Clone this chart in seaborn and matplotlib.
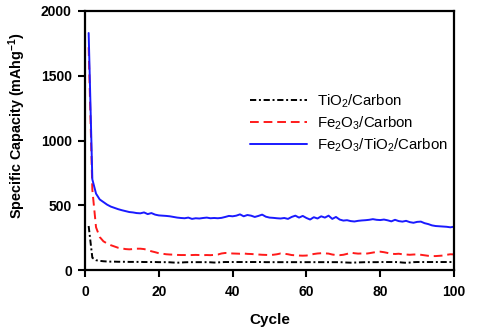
import numpy as np
import pandas as pd
import matplotlib
matplotlib.use("Agg")
import matplotlib.pyplot as plt
import seaborn as sns

cycles = list(range(1, 101))

tio2_carbon = [
    340, 95, 76, 71, 68, 66, 65, 65, 64, 64,
    64, 63, 63, 63, 63, 62, 62, 62, 62, 61,
    61, 61, 60, 58, 57, 58, 60, 61, 61, 61,
    61, 61, 61, 60, 58, 59, 61, 62, 62, 62,
    62, 62, 62, 62, 62, 62, 62, 62, 61, 61,
    61, 61, 61, 61, 61, 61, 61, 61, 61, 61,
    61, 61, 61, 61, 61, 61, 61, 61, 61, 60,
    58, 57, 58, 59, 60, 61, 61, 61, 61, 62,
    62, 62, 62, 62, 61, 58, 56, 58, 61, 62,
    62, 62, 62, 62, 62, 62, 62, 62, 62, 62,
]

fe2o3_carbon = [
    1720, 620, 330, 255, 222, 205, 192, 182, 172, 167,
    162, 160, 162, 165, 165, 162, 155, 145, 138, 130,
    126, 122, 120, 119, 117, 116, 116, 115, 116, 117,
    116, 115, 116, 115, 117, 120, 128, 132, 130, 128,
    127, 126, 128, 125, 124, 122, 120, 118, 117, 116,
    118, 122, 128, 126, 122, 116, 114, 112, 111, 112,
    118, 124, 128, 130, 129, 127, 120, 116, 115, 118,
    125, 135, 130, 127, 128, 126, 130, 135, 140, 142,
    138, 132, 126, 124, 126, 122, 120, 118, 120, 121,
    118, 114, 110, 108, 108, 110, 112, 118, 122, 121,
]

fe2o3_tio2_carbon = [
    1830, 700, 590, 545, 525, 505, 490, 480, 470, 462,
    455, 448, 445, 440, 438, 445, 432, 440, 428, 422,
    420, 418, 415, 410, 405, 402, 400, 405, 395, 400,
    398, 402, 405, 400, 402, 400, 403, 410, 418, 415,
    420, 430, 415, 425, 420, 410, 418, 428, 412, 405,
    403, 400, 398, 402, 395, 410, 420, 405, 418, 402,
    390, 408, 398, 415, 405, 420, 395, 410, 390, 382,
    385, 378, 375, 380, 383, 385, 388, 393, 388, 386,
    390, 384, 376, 388, 378, 374, 380, 370, 365, 372,
    374, 362, 355, 345, 340, 338, 336, 334, 330, 335,
]

series_labels = [r"TiO$_2$/Carbon", r"Fe$_2$O$_3$/Carbon", r"Fe$_2$O$_3$/TiO$_2$/Carbon"]
x_ticks = [0, 20, 40, 60, 80, 100]
y_ticks = [0, 500, 1000, 1500, 2000]

sns.set_theme(style="ticks")
plt.rcParams["font.family"] = ["Liberation Sans", "DejaVu Sans"]
plt.rcParams["mathtext.fontset"] = "custom"
plt.rcParams["mathtext.rm"] = "Liberation Sans"
plt.rcParams["mathtext.it"] = "Liberation Sans:italic"
plt.rcParams["mathtext.bf"] = "Liberation Sans:bold"
for key in ["text.color", "axes.labelcolor", "xtick.color", "ytick.color"]:
    plt.rcParams[key] = "black"

fig = plt.figure(figsize=(4.8, 3.33), dpi=100)
ax = fig.add_axes([0.177, 0.189, 0.769, 0.778])

lw = 1.4
styles = [
    dict(color="black", linestyle=(0, (3.2, 1.4, 1.0, 1.4))),
    dict(color="#ff1a1a", linestyle=(0, (4.5, 2.5))),
    dict(color="#1a1aff", linestyle="-"),
]
for vals, lab, st in zip([tio2_carbon, fe2o3_carbon, fe2o3_tio2_carbon], series_labels, styles):
    sns.lineplot(x=cycles, y=vals, ax=ax, label=lab, linewidth=lw, **st)

ax.set_xlim(0, 100)
ax.set_ylim(0, 2000)
ax.set_xticks(x_ticks)
ax.set_yticks(y_ticks)
ax.tick_params(axis="both", direction="out", length=5, width=1.5, labelsize=10)
ax.tick_params(axis="x", pad=6)
ax.tick_params(axis="y", pad=4.5)
for lbl in ax.get_xticklabels() + ax.get_yticklabels():
    lbl.set_fontweight("bold")
for sp in ax.spines.values():
    sp.set_visible(True)
    sp.set_linewidth(1.6)
    sp.set_color("black")

ax.set_xlabel("Cycle", fontsize=11, fontweight="bold", labelpad=10)
ax.set_ylabel(r"Specific Capacity (mAhg$^{\mathbf{-1}}$)", fontsize=10.4, fontweight="bold")
ax.yaxis.set_label_coords(-0.155, 0.556)

leg = ax.legend(loc="upper left", bbox_to_anchor=(0.447, 0.685), frameon=False,
                fontsize=10.8, handlelength=3.8, handletextpad=0.7, labelspacing=0.3,
                borderpad=0, borderaxespad=0)

fig.savefig("out.png", dpi=100)
